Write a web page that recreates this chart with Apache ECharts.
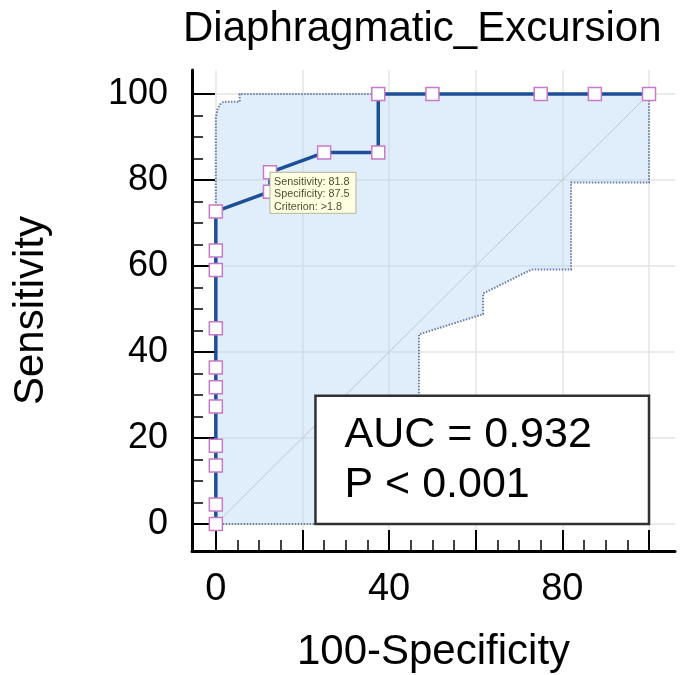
<!DOCTYPE html>
<html>
<head>
<meta charset="utf-8">
<script src="https://cdn.jsdelivr.net/npm/echarts@6/dist/echarts.min.js"></script>
<style>
html,body{margin:0;padding:0;background:#fff;}
#chart{width:681px;height:675px;}
</style>
</head>
<body>
<div id="chart"></div>
<script>
// ROC curve points (100-Specificity, Sensitivity)
const rocX = [0, 0, 0, 0, 0, 0, 0, 0, 0, 0, 0, 12.5, 12.5, 25, 37.5, 37.5, 50, 75, 87.5, 100];
const rocY = [0, 4.5, 13.6, 18.2, 27.3, 31.8, 36.4, 45.5, 59.1, 63.6, 72.7, 77.3, 81.8, 86.4, 86.4, 100, 100, 100, 100, 100];
// Confidence band outline: upper bound then lower bound (back to origin)
const bandX = [0, 0, 0.4, 1.0, 1.8, 5.5, 5.5, 100, 100, 82.0, 82.0, 72.9, 61.7, 61.7, 46.9, 46.9, 0];
const bandY = [0, 94.5, 96.5, 97.6, 98.2, 98.2, 100, 100, 79.4, 79.4, 59.2, 59.2, 53.6, 48.8, 44.1, 0, 0];
// Reference diagonal
const diagX = [0, 100];
const diagY = [0, 100];
// Axis ticks / labels
const majorTicks = [0, 20, 40, 60, 80, 100];
const minorTicks = [5, 10, 15, 25, 30, 35, 45, 50, 55, 65, 70, 75, 85, 90, 95];
const xLabels = [0, 40, 80];
const yLabels = [0, 20, 40, 60, 80, 100];
// Annotation
const tipAnchor = [12.5, 81.8];
const tipLines = ['Sensitivity: 81.8', 'Specificity: 87.5', 'Criterion: >1.8'];
const aucBox = [[23, 29.8], [100, 0]];
const aucLines = ['AUC = 0.932', 'P < 0.001'];

const FONT = '"Liberation Sans", Arial, sans-serif';
const X_MIN = -5.5, X_MAX = 106, Y_MIN = -6.3, Y_MAX = 105.6;

const chart = echarts.init(document.getElementById('chart'), null, {renderer: 'canvas'});

function mainAxis(isX, labels) {
  return {
    type: 'value', min: isX ? X_MIN : Y_MIN, max: isX ? X_MAX : Y_MAX,
    position: isX ? 'bottom' : 'left',
    axisLine: {show: true, onZero: false, lineStyle: {color: '#000', width: 3}},
    axisTick: {show: true, inside: true, length: isX ? 21 : 23, customValues: majorTicks,
      lineStyle: {color: '#000', width: 2}},
    axisLabel: {show: true, customValues: labels, margin: isX ? 20 : 24,
      fontFamily: FONT, fontSize: isX ? 38 : 36, color: '#000'},
    splitLine: {show: true, lineStyle: {color: '#e4e4e4', width: 1.5}},
    name: isX ? '100-Specificity' : 'Sensitivity',
    nameLocation: 'middle',
    nameGap: isX ? 80 : 140,
    nameTextStyle: {fontFamily: FONT, fontSize: 42, color: '#000'}
  };
}
function minorAxis(isX) {
  return {
    type: 'value', min: isX ? X_MIN : Y_MIN, max: isX ? X_MAX : Y_MAX,
    position: isX ? 'bottom' : 'left',
    axisLine: {show: false, onZero: false},
    axisTick: {show: true, inside: true, length: 11, customValues: minorTicks,
      lineStyle: {color: '#000', width: 1.5}},
    axisLabel: {show: false},
    splitLine: {show: false}
  };
}

const option = {
  animation: false,
  backgroundColor: '#fff',
  title: {
    text: 'Diaphragmatic_Excursion', left: 178, top: 3,
    textStyle: {fontFamily: FONT, fontSize: 42, fontWeight: 'normal', color: '#000'}
  },
  grid: {left: 192, top: 70, right: 6, bottom: 124, containLabel: false, outerBoundsMode: 'none'},
  xAxis: [mainAxis(true, xLabels), minorAxis(true)],
  yAxis: [mainAxis(false, yLabels), minorAxis(false)],
  series: [
    {
      type: 'custom', xAxisIndex: 0, yAxisIndex: 0, z: 1,
      data: [[0, 0]],
      renderItem: function (params, api) {
        const pts = bandX.map((x, i) => api.coord([x, bandY[i]]));
        return {
          type: 'polygon', shape: {points: pts},
          style: {fill: 'rgba(178,212,248,0.40)', stroke: '#6a7ea8', lineWidth: 2, lineDash: [1.5, 1.5]}
        };
      },
      silent: true
    },
    {
      type: 'line', xAxisIndex: 0, yAxisIndex: 0, z: 2,
      data: diagX.map((x, i) => [x, diagY[i]]),
      showSymbol: false, symbol: 'none',
      lineStyle: {color: '#c0c6d2', width: 1}, silent: true
    },
    {
      type: 'line', xAxisIndex: 0, yAxisIndex: 0, z: 3,
      data: rocX.map((x, i) => [x, rocY[i]]),
      symbol: 'rect', symbolSize: 13, showAllSymbol: true,
      lineStyle: {color: '#1c4f98', width: 3.5},
      itemStyle: {color: '#ffffff', borderColor: '#c77ac9', borderWidth: 1.5}
    }
  ]
};
chart.setOption(option);

const tp = chart.convertToPixel({xAxisIndex: 0, yAxisIndex: 0}, tipAnchor);
const a0 = chart.convertToPixel({xAxisIndex: 0, yAxisIndex: 0}, aucBox[0]);
const a1 = chart.convertToPixel({xAxisIndex: 0, yAxisIndex: 0}, aucBox[1]);

const graphics = [
  {type: 'rect', z: 100, shape: {x: tp[0], y: tp[1], width: 86, height: 41},
   style: {fill: '#ffffe3', stroke: '#b4b496', lineWidth: 1}},
];
tipLines.forEach((t, i) => {
  graphics.push({type: 'text', z: 101, x: tp[0] + 4, y: tp[1] + 9.5 + i * 12.5,
    style: {text: t, fontFamily: FONT, fontSize: 10.8, fill: '#4e4e30', verticalAlign: 'middle', align: 'left'}});
});
graphics.push({type: 'rect', z: 100, shape: {x: a0[0], y: a0[1], width: a1[0] - a0[0], height: a1[1] - a0[1]},
  style: {fill: '#ffffff', stroke: '#303030', lineWidth: 2.5}});
aucLines.forEach((t, i) => {
  graphics.push({type: 'text', z: 101, x: a0[0] + 29, y: a0[1] + 39 + i * 50,
    style: {text: t, fontFamily: FONT, fontSize: 43, fill: '#000', verticalAlign: 'middle', align: 'left'}});
});
chart.setOption({graphic: graphics});
</script>
</body>
</html>
